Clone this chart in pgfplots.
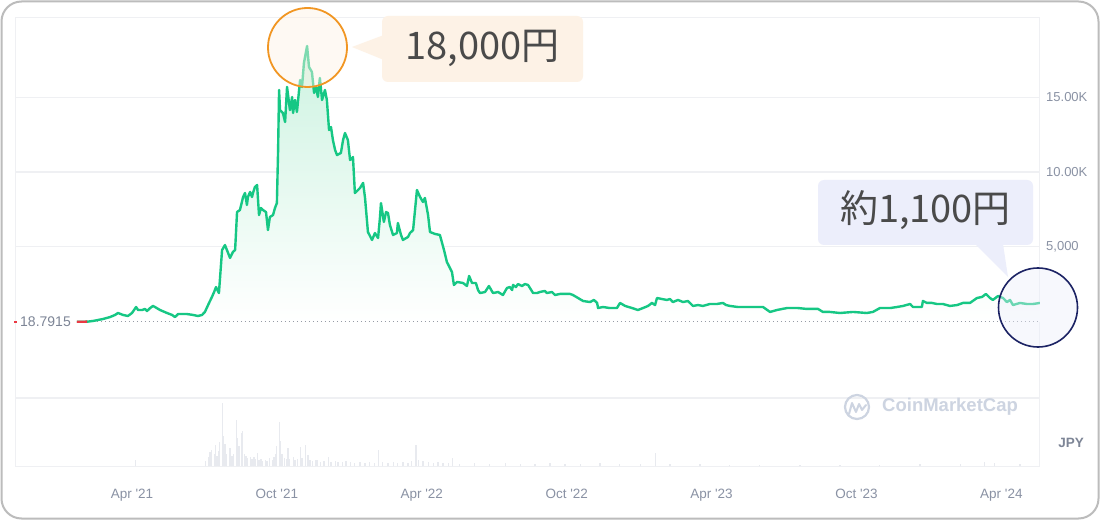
\documentclass[border=0pt]{standalone}
\usepackage{fontspec}
\setmainfont{Liberation Sans}
\newfontfamily\jp{Noto Sans CJK JP}
\usepackage{pgfplots}
\usepackage{pgfplotstable}
\pgfplotsset{compat=1.18}

\definecolor{cmcgreen}{RGB}{22,199,132}
\definecolor{gridc}{RGB}{239,240,243}
\definecolor{tickc}{RGB}{138,146,164}
\definecolor{labc}{RGB}{125,133,150}
\definecolor{volc}{RGB}{232,234,239}
\definecolor{framec}{RGB}{188,188,188}
\definecolor{peach}{RGB}{253,242,230}
\definecolor{orangec}{RGB}{241,150,35}
\definecolor{lav}{RGB}{236,238,251}
\definecolor{navy}{RGB}{28,35,100}
\definecolor{txt}{RGB}{74,74,74}
\definecolor{wm}{RGB}{205,212,225}
\definecolor{redc}{RGB}{234,57,67}
\definecolor{mint}{RGB}{205,243,225}
\definecolor{dotc}{RGB}{150,155,165}

% price in JPY, x = months since 1 Jan 2021
\pgfplotstableread{
m v
0.72 18.79
1.14 20
1.39 70
1.80 200
2.09 330
2.30 470
2.42 600
2.63 470
2.83 400
3.00 600
3.17 1000
3.25 800
3.42 800
3.54 870
3.62 730
3.75 930
3.87 1070
3.95 1000
4.16 800
4.45 600
4.66 470
4.78 330
4.91 530
5.28 530
5.53 470
5.73 400
5.90 470
6.02 670
6.15 1130
6.31 1670
6.40 2000
6.48 2330
6.60 1930
6.73 4800
6.85 5130
7.06 4270
7.18 4670
7.27 4800
7.35 7330
7.47 7470
7.60 8330
7.68 8600
7.76 7800
7.80 8330
7.89 8670
7.97 8330
8.01 8600
8.09 9000
8.18 9130
8.26 7130
8.34 7600
8.42 7470
8.55 7330
8.63 6130
8.71 7000
8.84 7130
8.92 7600
9.00 7930
9.05 11470
9.09 15470
9.13 14130
9.25 13930
9.34 13330
9.42 15670
9.54 14130
9.63 15000
9.67 13930
9.75 14800
9.83 14000
9.96 16130
10.04 15670
10.12 17270
10.25 18400
10.33 17000
10.45 16670
10.54 15270
10.62 15670
10.70 15000
10.78 16270
10.87 14800
10.99 15470
11.07 14800
11.16 12800
11.24 13000
11.32 12130
11.41 11470
11.49 11130
11.65 11270
11.74 12130
11.82 12600
11.94 12130
12.03 10800
12.15 11000
12.23 8600
12.44 8930
12.57 9270
12.65 8270
12.77 6000
12.94 5470
13.06 5930
13.19 5600
13.27 7000
13.31 7930
13.43 6670
13.52 7330
13.60 7270
13.68 6470
13.81 5800
13.97 5930
14.01 6600
14.14 5800
14.22 5470
14.43 5670
14.51 5930
14.64 6130
14.80 8800
14.93 8330
15.05 8000
15.13 8270
15.26 7130
15.34 6000
15.55 5870
15.75 5800
15.92 4800
16.04 4000
16.25 3330
16.33 2470
16.46 2670
16.71 2600
16.87 2400
16.96 3070
17.08 2600
17.24 2600
17.33 2130
17.41 1930
17.62 2000
17.78 2400
17.95 1930
18.16 2000
18.36 1800
18.53 2270
18.65 2330
18.74 2130
18.78 2470
18.90 2330
18.98 2530
19.15 2400
19.27 2530
19.40 2470
19.61 1930
19.77 1930
19.89 2000
20.10 2070
20.18 1930
20.39 2000
20.52 1800
20.72 1870
21.14 1870
21.26 1800
21.47 1600
21.68 1400
21.97 1330
22.13 1470
22.26 1270
22.30 930
22.50 1000
22.79 930
23.08 930
23.21 1270
23.42 1070
23.71 930
23.95 800
24.16 930
24.37 1070
24.53 1270
24.66 1130
24.74 1600
24.95 1530
25.15 1470
25.28 1530
25.40 1330
25.61 1470
25.82 1330
26.02 1400
26.23 1070
26.44 1130
26.64 1070
26.93 1200
27.22 1200
27.47 1270
27.60 1130
27.76 1070
28.09 1000
28.59 1000
29.13 1000
29.42 670
29.71 800
30.12 930
30.58 930
30.95 870
31.41 870
31.61 670
31.90 670
32.32 600
32.86 670
33.43 600
33.68 670
33.97 930
34.39 930
34.68 1000
34.93 1070
35.22 1200
35.34 1000
35.71 1000
35.75 1400
35.92 1270
36.13 1270
36.33 1200
36.58 1200
36.87 1070
37.17 1130
37.41 1270
37.70 1270
37.99 1600
38.20 1670
38.36 1870
38.53 1600
38.65 1470
38.86 1730
39.07 1600
39.23 1330
39.36 1470
39.48 1130
39.77 1270
40.06 1200
40.31 1200
40.60 1270
}\price

% relative trading volume
\pgfplotstableread{
m vol
3.13 6
6.06 5
6.15 9
6.23 14
6.31 16
6.40 12
6.44 21
6.52 10
6.60 15
6.64 24
6.73 63
6.77 30
6.85 22
6.93 12
7.02 14
7.06 18
7.14 10
7.22 12
7.31 46
7.35 28
7.39 18
7.43 20
7.52 33
7.56 35
7.64 12
7.72 10
7.80 8
7.89 9
7.97 7
8.05 9
8.13 7
8.18 13
8.26 6
8.34 7
8.42 5
8.51 6
8.59 5
8.71 8
8.80 6
8.88 9
8.96 12
9.00 20
9.09 44
9.13 25
9.21 12
9.30 8
9.38 7
9.46 18
9.54 7
9.67 9
9.75 6
9.87 7
9.96 19
10.04 8
10.17 21
10.25 9
10.29 11
10.37 6
10.49 5
10.62 6
10.70 6
10.82 4
10.95 5
11.12 9
11.24 4
11.41 5
11.53 4
11.70 4
11.86 5
12.03 4
12.23 3
12.44 4
12.65 3
12.85 4
13.06 3
13.22 16
13.39 4
13.60 3
13.81 4
14.01 3
14.22 4
14.43 3
14.59 5
14.76 21
14.88 6
15.05 5
15.26 4
15.47 3
15.67 4
15.88 3
16.09 3
16.29 8
16.58 2
17.20 3
17.82 2
18.45 3
19.07 2
19.69 2
20.31 3
20.93 2
21.56 2
22.38 3
23.19 2
24.04 2
24.66 13
25.28 2
26.52 2
27.74 1.5
28.98 1.5
30.66 1.5
32.32 1.5
33.97 1.5
35.63 2
37.29 2
38.32 4
38.73 3
39.77 2
}\volume

\begin{document}
\begin{tikzpicture}[x=1pt,y=1pt]
\useasboundingbox (0,0) rectangle (1100,520);
\fill[white] (0,0) rectangle (1100,520);

% price panel
\begin{axis}[at={(15pt,122pt)}, anchor=south west, scale only axis,
  width=1025pt, height=380pt,
  xmin=-1.845, xmax=40.60, ymin=-5067, ymax=20267,
  axis line style={draw=gridc, line width=1pt},
  xtick=\empty,
  ytick={5000,10000,15000},
  yticklabels={5{,}000,10.00K,15.00K},
  scaled y ticks=false,
  yticklabel pos=right,
  ymajorgrids, major grid style={draw=gridc, line width=1pt},
  major tick length=0pt,
  yticklabel style={anchor=west, inner sep=0pt, xshift=6pt,
    font=\fontsize{13}{15}\selectfont, text=tickc},
]
\addplot[draw=none, top color=mint, bottom color=white] table[x=m,y=v] {\price} \closedcycle;
\addplot[dash pattern=on 1.2pt off 2.8pt, draw=dotc, line width=0.9pt] coordinates {(0.72,18.79) (40.60,18.79)};
\addplot[cmcgreen, line width=2.4pt, line join=round] table[x=m,y=v] {\price};
\addplot[redc, line width=2.4pt] coordinates {(0.72,18.79) (1.14,20)};
\end{axis}

% volume panel
\begin{axis}[at={(15pt,54pt)}, anchor=south west, scale only axis,
  width=1025pt, height=68pt,
  xmin=-1.845, xmax=40.60, ymin=0, ymax=68,
  axis line style={draw=gridc, line width=1pt},
  ytick=\empty,
  scaled x ticks=false,
  xtick={3,9,15,21,27,33,39},
  xticklabels={Apr \textquotesingle21,Oct \textquotesingle21,Apr \textquotesingle22,Oct \textquotesingle22,Apr \textquotesingle23,Oct \textquotesingle23,Apr \textquotesingle24},
  major tick length=0pt,
  xticklabel style={anchor=base, inner sep=0pt, yshift=-32pt,
    font=\fontsize{13.5}{15}\selectfont, text=tickc},
]
\addplot[ycomb, draw=volc, line width=1.1pt] table[x=m,y=vol] {\volume};
\end{axis}

% start price label
\fill[redc] (14,197.2) rectangle (17,198.8);
\node[anchor=west, inner sep=0pt, text=labc, font=\fontsize{14}{16}\selectfont] at (20,198) {18.7915};

% JPY label
\node[inner sep=0pt, text=labc, font=\bfseries\fontsize{13.5}{15}\selectfont] at (1071,77) {JPY};

% watermark
\draw[wm, line width=2.2pt] (857,113) circle (12);
\draw[wm, line width=2pt, line join=round, line cap=round] (849,106) -- (852,117) -- (856,108) -- (859,116) -- (862,110) -- (866,115);
\node[anchor=west, inner sep=0pt, text=wm, font=\bfseries\fontsize{18.5}{20}\selectfont] at (882,113) {CoinMarketCap};

% orange annotation
\filldraw[fill=peach, fill opacity=0.45, draw=orangec, line width=1.8pt] (307.5,472.5) circle (39.5);
\fill[peach, rounded corners=6pt] (382,438) rectangle (583,504);
\fill[peach] (352,473) -- (384,485) -- (384,460) -- cycle;
\node[anchor=base, inner sep=0pt, text=txt] at (482.5,460) {\jp\fontsize{38}{40}\selectfont 18,000円};

% blue annotation
\fill[lav, rounded corners=6pt] (818,275) rectangle (1033,340);
\fill[lav] (975,276) -- (1003,276) -- (1008,243) -- cycle;
\node[anchor=base, inner sep=0pt, text=txt] at (925.5,297) {\jp\fontsize{38}{40}\selectfont 約1,100円};
\filldraw[fill=lav, fill opacity=0.4, draw=navy, line width=1.6pt] (1038,212.5) circle (39.5);

% frame
\draw[framec, line width=2pt, rounded corners=20pt] (1.5,1.5) rectangle (1098.5,518.5);
\end{tikzpicture}
\end{document}
